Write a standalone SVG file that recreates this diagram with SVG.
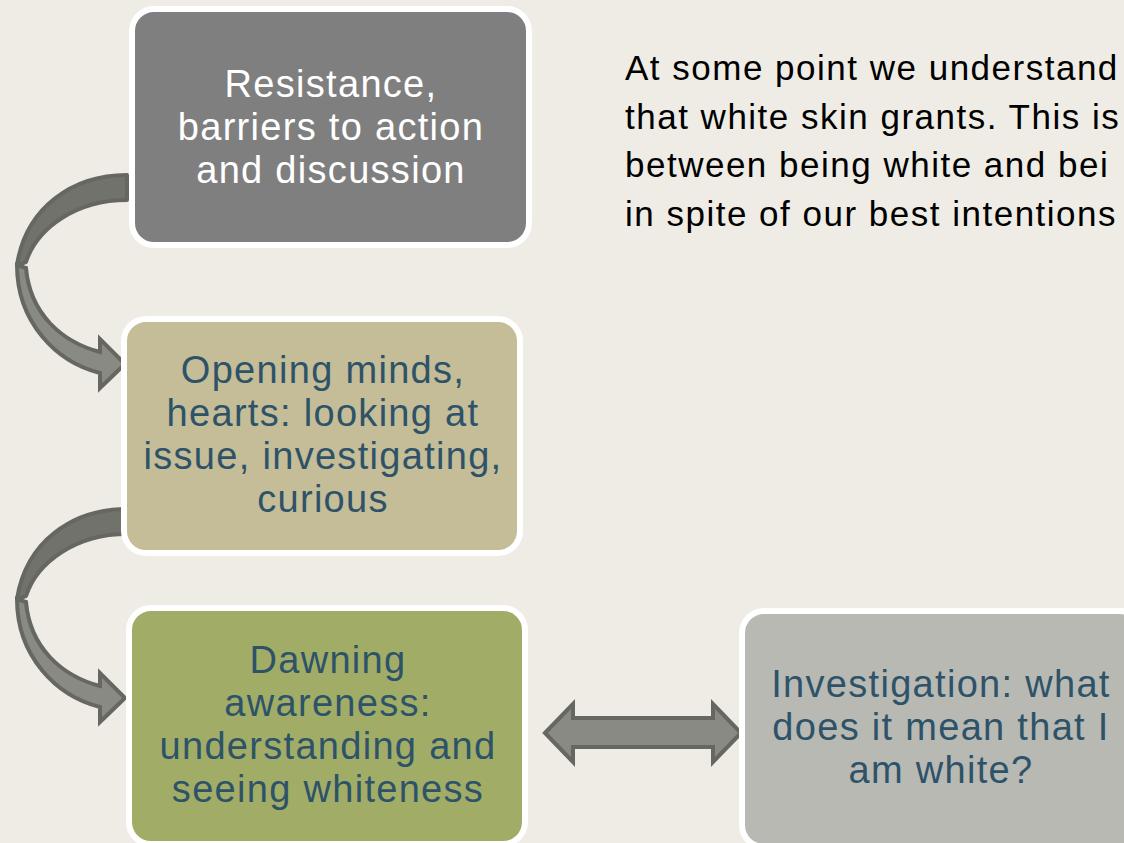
<svg xmlns="http://www.w3.org/2000/svg" width="1124" height="843" viewBox="0 0 1124 843">
<style>
.box{stroke:#ffffff;stroke-width:6}
.t{font-family:"Liberation Sans",Arial,sans-serif;font-size:38px;letter-spacing:1.3px;text-anchor:middle}
.blue{fill:#2e5369}
.body{font-family:"Liberation Sans",Arial,sans-serif;font-size:35px;letter-spacing:1.5px;fill:#000000}
.band{fill:#72726c;stroke:#676762;stroke-width:4;stroke-linejoin:round}
.arr{fill:#8a8a84;stroke:#676762;stroke-width:4;stroke-linejoin:miter}
</style>
<rect width="1124" height="843" fill="#eeece4"/>
<g id="connectors">
  <g id="curve1">
    <path class="band" d="M127,175 C72,175 26,208 17,265 L26,262 C37,228 76,200 127,200 Z"/>
    <path class="arr" d="M17,265 C17,322 56,362 100,373 L100,388 L125,364 L100,339 L100,352 C62,342 30,314 26,268 Z"/>
  </g>
  <g id="curve2">
    <path class="band" d="M127,509 C72,509 26,542 17,599 L26,596 C37,562 76,534 127,534 Z"/>
    <path class="arr" d="M17,599 C17,656 56,696 100,707 L100,722 L125,698 L100,673 L100,686 C62,676 30,648 26,602 Z"/>
  </g>
  <path id="double" class="arr" d="M545,733 L573,704 L573,718 L713,718 L713,704 L741,733 L713,762 L713,747 L573,747 L573,762 Z"/>
</g>
<g id="node1">
  <rect class="box" x="132" y="9" width="397" height="236" rx="22" fill="#7f7f7f"/>
  <text class="t" fill="#ffffff" x="331" y="97">Resistance,</text>
  <text class="t" fill="#ffffff" x="331" y="140">barriers to action</text>
  <text class="t" fill="#ffffff" x="331" y="183">and discussion</text>
</g>
<g id="node2">
  <rect class="box" x="124" y="319" width="396" height="234" rx="22" fill="#c4bd97"/>
  <text class="t blue" x="323" y="383">Opening minds,</text>
  <text class="t blue" x="323" y="426">hearts: looking at</text>
  <text class="t blue" x="323" y="469">issue, investigating,</text>
  <text class="t blue" x="323" y="512">curious</text>
</g>
<g id="node3">
  <rect class="box" x="129" y="608" width="396" height="236" rx="22" fill="#a1ad66"/>
  <text class="t blue" x="328" y="673">Dawning</text>
  <text class="t blue" x="328" y="716">awareness:</text>
  <text class="t blue" x="328" y="759">understanding and</text>
  <text class="t blue" x="328" y="802">seeing whiteness</text>
</g>
<g id="node4">
  <rect class="box" x="742" y="611" width="400" height="236" rx="22" fill="#b9b9b4"/>
  <text class="t blue" x="941" y="697">Investigation: what</text>
  <text class="t blue" x="941" y="740">does it mean that I</text>
  <text class="t blue" x="941" y="783">am white?</text>
</g>
<g id="note">
  <text class="body" x="625" y="80">At some point we understand</text>
  <text class="body" x="625" y="129">that white skin grants. This is</text>
  <text class="body" x="625" y="177">between being white and bei</text>
  <text class="body" x="625" y="226">in spite of our best intentions</text>
</g>
</svg>
